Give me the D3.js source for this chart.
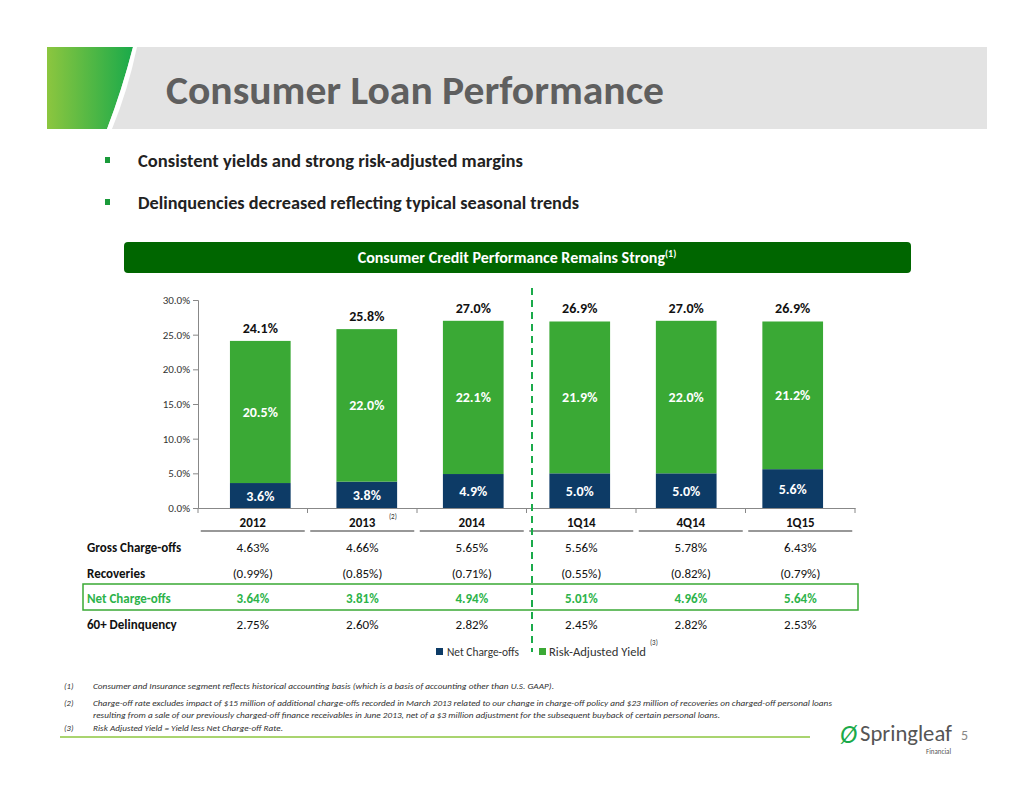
<!DOCTYPE html>
<html><head><meta charset="utf-8">
<script src="https://cdn.jsdelivr.net/npm/d3@7"></script>
<style>body{margin:0;background:#fff;font-family:Calibri,Carlito,"Open Sans",sans-serif;}</style>
</head><body>
<svg id="c" width="1034" height="799"></svg>
<script>
const categories=["2012","2013","2014","1Q14","4Q14","1Q15"];
const netChargeOffs=[3.6,3.8,4.9,5.0,5.0,5.6];
const riskAdjYield=[20.5,22.0,22.1,21.9,22.0,21.2];
const totals=[24.1,25.8,27.0,26.9,27.0,26.9];
const yTicks=[0,5,10,15,20,25,30];
const rowLabels=["Gross Charge-offs","Recoveries","Net Charge-offs","60+ Delinquency"];
const grossRow=["4.63%","4.66%","5.65%","5.56%","5.78%","6.43%"];
const recovRow=["(0.99%)","(0.85%)","(0.71%)","(0.55%)","(0.82%)","(0.79%)"];
const netRow=["3.64%","3.81%","4.94%","5.01%","4.96%","5.64%"];
const delinqRow=["2.75%","2.60%","2.82%","2.45%","2.82%","2.53%"];

const svg=d3.select("#c");
const F="Calibri,Carlito,'Open Sans',sans-serif";
const NAVY="#0d3b66", GREEN="#3aa935";
const SG="spacingAndGlyphs";
const g0=svg.append("defs").append("linearGradient").attr("id","hg");
g0.append("stop").attr("offset","0").attr("stop-color","#8cc63f");
g0.append("stop").attr("offset","1").attr("stop-color","#1aaa4a");
svg.append("rect").attr("x",47).attr("y",47).attr("width",940).attr("height",82).attr("fill","#e3e3e3");
svg.append("path").attr("d","M47,47 L133,47 Q122,90 107,129 L47,129 Z").attr("fill","url(#hg)");
svg.append("path").attr("d","M133,47 Q122,90 107,129 L112,129 Q128,90 137,47 Z").attr("fill","#fff");
svg.append("text").attr("x",166).attr("y",104).attr("font-family",F).attr("font-weight","bold").attr("font-size",40).attr("fill","#5f5f5f").attr("textLength",498).attr("lengthAdjust",SG).text("Consumer Loan Performance");
[["Consistent yields and strong risk-adjusted margins",167,385],["Delinquencies decreased reflecting typical seasonal trends",209,441]].forEach(([t,y,L])=>{
 svg.append("rect").attr("x",105).attr("y",y-10).attr("width",5).attr("height",6).attr("fill","#1a9a3a");
 svg.append("text").attr("x",138).attr("y",y).attr("font-family",F).attr("font-weight","bold").attr("font-size",18).attr("fill","#222").attr("textLength",L).attr("lengthAdjust",SG).text(t);
});
svg.append("rect").attr("x",124).attr("y",242).attr("width",787).attr("height",31).attr("rx",4).attr("fill","#006600");
const bt=svg.append("text").attr("x",517).attr("y",263).attr("text-anchor","middle").attr("font-family",F).attr("font-weight","bold").attr("font-size",16).attr("fill","#fff");
bt.append("tspan").text("Consumer Credit Performance Remains Strong");
bt.append("tspan").attr("font-size",10).attr("dy",-6).text("(1)");

const x=d3.scaleBand().domain(categories).range([198,855]).paddingInner(0.43).paddingOuter(0.3);
const y=d3.scaleLinear().domain([0,30]).range([508,300]);
const ax=svg.append("g").attr("transform","translate(198,0)").call(d3.axisLeft(y).tickValues(yTicks).tickFormat(d=>d.toFixed(1)+"%").tickSize(5));
ax.selectAll("text").attr("font-family",F).attr("font-size",11).attr("fill","#333");
ax.selectAll("line,path").attr("stroke","#888");
const bx=svg.append("g").attr("transform","translate(0,508)").call(d3.axisBottom(d3.scaleLinear().range([198,855])).ticks(0).tickSize(0));
bx.select("path").attr("stroke","#888");
categories.forEach((c,i)=>{
 const xx=198+i*109.5; svg.append("line").attr("x1",xx).attr("x2",xx).attr("y1",508).attr("y2",513).attr("stroke","#888");
});
svg.append("line").attr("x1",855).attr("x2",855).attr("y1",508).attr("y2",513).attr("stroke","#888");
categories.forEach((c,i)=>{
 const bx0=x(c),w=x.bandwidth(),cx=bx0+w/2;
 svg.append("rect").attr("x",bx0).attr("width",w).attr("y",y(netChargeOffs[i])).attr("height",y(0)-y(netChargeOffs[i])).attr("fill",NAVY);
 svg.append("rect").attr("x",bx0).attr("width",w).attr("y",y(totals[i])).attr("height",y(netChargeOffs[i])-y(totals[i])).attr("fill",GREEN);
 svg.append("text").attr("x",cx).attr("y",(y(0)+y(netChargeOffs[i]))/2+5).attr("text-anchor","middle").attr("font-family",F).attr("font-weight","bold").attr("font-size",14).attr("fill","#fff").text(netChargeOffs[i].toFixed(1)+"%");
 svg.append("text").attr("x",cx).attr("y",(y(netChargeOffs[i])+y(totals[i]))/2+5).attr("text-anchor","middle").attr("font-family",F).attr("font-weight","bold").attr("font-size",14).attr("fill","#fff").text(riskAdjYield[i].toFixed(1)+"%");
 svg.append("text").attr("x",cx).attr("y",y(totals[i])-8).attr("text-anchor","middle").attr("font-family",F).attr("font-weight","bold").attr("font-size",14).attr("fill","#111").text(totals[i].toFixed(1)+"%");
 const cx2=198+i*109.5+54.75;
 svg.append("text").attr("x",cx2).attr("y",527).attr("text-anchor","middle").attr("font-family",F).attr("font-weight","bold").attr("font-size",13).attr("fill","#111").text(c);
 svg.append("line").attr("x1",cx2-52).attr("x2",cx2+52).attr("y1",531).attr("y2",531).attr("stroke","#333").attr("stroke-width",1.2);
 [grossRow,recovRow,netRow,delinqRow].forEach((r,j)=>{
  svg.append("text").attr("x",cx2).attr("y",552+j*25.5).attr("text-anchor","middle").attr("font-family",F).attr("font-weight",j==2?"bold":"normal").attr("font-size",13).attr("fill",j==2?"#2db34a":"#111").text(r[i]);
 });
});
svg.append("text").attr("x",389).attr("y",519).attr("font-family",F).attr("font-size",7).attr("fill","#333").text("(2)");
svg.append("rect").attr("x",83).attr("y",584).attr("width",775).attr("height",26).attr("fill","none").attr("stroke","#3aa935").attr("stroke-width",1.5);
rowLabels.forEach((t,j)=>svg.append("text").attr("x",87).attr("y",552+j*25.5).attr("font-family",F).attr("font-weight","bold").attr("font-size",13).attr("fill",j==2?"#2db34a":"#111").text(t));
svg.append("line").attr("x1",532).attr("x2",532).attr("y1",288).attr("y2",652).attr("stroke","#1aaa4a").attr("stroke-width",2).attr("stroke-dasharray","7,5");
svg.append("rect").attr("x",436).attr("y",648).attr("width",7).attr("height",7).attr("fill",NAVY);
svg.append("text").attr("x",447).attr("y",656).attr("font-family",F).attr("font-size",12).attr("fill","#333").attr("textLength",72).attr("lengthAdjust",SG).text("Net Charge-offs");
svg.append("rect").attr("x",539).attr("y",648).attr("width",7).attr("height",7).attr("fill",GREEN);
svg.append("text").attr("x",549).attr("y",656).attr("font-family",F).attr("font-size",12).attr("fill","#333").attr("textLength",97).attr("lengthAdjust",SG).text("Risk-Adjusted Yield");
svg.append("text").attr("x",650).attr("y",645).attr("font-family",F).attr("font-size",7).attr("fill","#333").text("(3)");
const fn=[["(1)","Consumer and Insurance segment reflects historical accounting basis (which is a basis of accounting other than U.S. GAAP).",689,461],
["(2)","Charge-off rate excludes impact of $15 million of additional charge-offs recorded in March 2013 related to our change in charge-off policy and $23 million of recoveries on charged-off personal loans",706,739],
["","resulting from a sale of our previously charged-off finance receivables in June 2013, net of a $3 million adjustment for the subsequent buyback of certain personal loans.",718,627],
["(3)","Risk Adjusted Yield = Yield less Net Charge-off Rate.",731,190]];
fn.forEach(([a,b,yy,L])=>{
 svg.append("text").attr("x",64).attr("y",yy).attr("font-family",F).attr("font-style","italic").attr("font-size",8.5).attr("fill","#333").text(a);
 svg.append("text").attr("x",93).attr("y",yy).attr("font-family",F).attr("font-style","italic").attr("font-size",8.5).attr("fill","#333").attr("textLength",L).attr("lengthAdjust",SG).text(b);
});
svg.append("line").attr("x1",60).attr("x2",810).attr("y1",737).attr("y2",737).attr("stroke","#8cc63f").attr("stroke-width",1.5);
svg.append("text").attr("x",840).attr("y",743).attr("font-family",F).attr("font-size",26).attr("font-style","italic").attr("fill","#1aaa4a").text("Ø");
svg.append("text").attr("x",860).attr("y",741).attr("font-family",F).attr("font-size",22).attr("fill","#555").attr("textLength",92).attr("lengthAdjust",SG).text("Springleaf");
svg.append("text").attr("x",926).attr("y",754).attr("font-family",F).attr("font-size",7).attr("fill","#555").text("Financial");
svg.append("text").attr("x",961).attr("y",740).attr("font-family",F).attr("font-size",14).attr("fill","#888").text("5");
</script></body></html>
